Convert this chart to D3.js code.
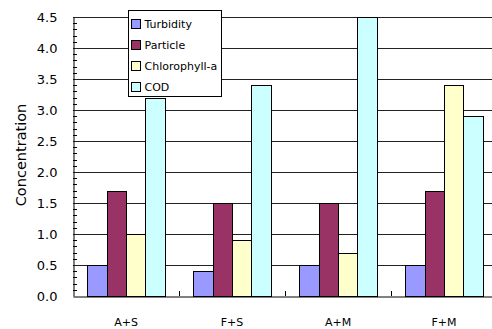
<!DOCTYPE html>
<html>
<head>
<meta charset="utf-8">
<script src="https://cdn.jsdelivr.net/npm/d3@7"></script>
<style>
  html, body { margin: 0; padding: 0; background: #fff; }
  svg { display: block; }
  text { font-family: "Comic Sans MS", "DejaVu Sans", sans-serif; fill: #000; }
</style>
</head>
<body>
<svg id="chart" width="492" height="329"></svg>
<script>
// Treatment groups along the x axis
const categories = ["A+S", "F+S", "A+M", "F+M"];
// Measured parameters (one bar per series in every group)
const seriesNames = ["Turbidity", "Particle", "Chlorophyll-a", "COD"];
const turbidity = [0.5, 0.4, 0.5, 0.5];
const particle = [1.7, 1.5, 1.5, 1.7];
const chlorophyll = [1.0, 0.9, 0.7, 3.4];
const cod = [3.2, 3.4, 4.5, 2.9];
const yTicks = [0.0, 0.5, 1.0, 1.5, 2.0, 2.5, 3.0, 3.5, 4.0, 4.5];
const colors = ["#9999ff", "#993366", "#ffffcc", "#ccffff"];

const seriesValues = [turbidity, particle, chlorophyll, cod];

const svg = d3.select("#chart");
const plotLeft = 73, plotTop = 17, plotBottom = 296, plotRight = 497;

const x0 = d3.scaleBand().domain(categories).range([plotLeft, plotRight]).paddingInner(0).paddingOuter(0);
const x1 = d3.scaleBand().domain(seriesNames).range([0, x0.bandwidth()]).paddingInner(0).paddingOuter(0.75);
const y = d3.scaleLinear().domain([0, 4.5]).range([plotBottom, plotTop]);

// Horizontal gridlines at each major tick
svg.append("g")
  .selectAll("line")
  .data(yTicks.filter(d => d > 0))
  .join("line")
  .attr("x1", plotLeft).attr("x2", plotRight)
  .attr("y1", d => Math.round(y(d)) + 0.5).attr("y2", d => Math.round(y(d)) + 0.5)
  .attr("stroke", "#222").attr("stroke-width", 1);

// Bars
const groups = svg.append("g")
  .selectAll("g")
  .data(categories)
  .join("g")
  .attr("transform", d => `translate(${x0(d)},0)`);

groups.selectAll("rect")
  .data((c, ci) => seriesNames.map((s, si) => ({ s, si, v: seriesValues[si][ci] })))
  .join("rect")
  .attr("x", d => Math.round(x1(d.s)) + 0.5)
  .attr("y", d => Math.round(y(d.v)) + 0.5)
  .attr("width", d => Math.round(x1(d.s) + x1.bandwidth()) - Math.round(x1(d.s)))
  .attr("height", d => Math.round(y(0)) - Math.round(y(d.v)))
  .attr("fill", d => colors[d.si])
  .attr("stroke", "#000")
  .attr("stroke-width", 1);

// Y axis with major labels and minor ticks
const yAxis = d3.axisLeft(y).tickValues(yTicks).tickFormat(d3.format(".1f")).tickSize(0).tickPadding(16);
const ya = svg.append("g").attr("transform", `translate(${plotLeft + 0.5},0)`).call(yAxis);
ya.select(".domain").attr("stroke", "#000");
ya.selectAll("text").style("font-size", "13px");

const minor = d3.range(0, 45).map(i => i / 10).filter(v => Math.round(v * 10) % 5 !== 0);
svg.append("g")
  .selectAll("line")
  .data(minor)
  .join("line")
  .attr("x1", plotLeft).attr("x2", plotLeft + 4)
  .attr("y1", d => Math.round(y(d)) + 0.5).attr("y2", d => Math.round(y(d)) + 0.5)
  .attr("stroke", "#000");

// X axis
const xAxis = d3.axisBottom(x0).tickSize(0).tickPadding(22);
const xa = svg.append("g").attr("transform", `translate(0,${plotBottom + 0.5})`).call(xAxis);
xa.select(".domain").attr("stroke", "#000");
xa.selectAll("text").style("font-size", "11px");

// Category separator ticks
svg.append("g")
  .selectAll("line")
  .data(categories.slice(1))
  .join("line")
  .attr("x1", d => Math.round(x0(d)) + 0.5).attr("x2", d => Math.round(x0(d)) + 0.5)
  .attr("y1", plotBottom - 5).attr("y2", plotBottom)
  .attr("stroke", "#000");

// Y axis title
svg.append("text")
  .attr("transform", `translate(21,155) rotate(-90)`)
  .attr("text-anchor", "middle")
  .attr("dy", "0.35em")
  .style("font-size", "14.5px")
  .text("Concentration");

// Legend
const lg = svg.append("g").attr("transform", "translate(128.5,10.5)");
lg.append("rect").attr("width", 93).attr("height", 86)
  .attr("fill", "#fff").attr("stroke", "#000");
const rows = lg.selectAll("g")
  .data(seriesNames)
  .join("g")
  .attr("transform", (d, i) => `translate(3,${9 + i * 21})`);
rows.append("rect").attr("width", 9).attr("height", 9)
  .attr("fill", (d, i) => colors[i]).attr("stroke", "#000");
rows.append("text").attr("x", 13).attr("y", 5).attr("dy", "0.35em")
  .style("font-size", "11px").text(d => d);
</script>
</body>
</html>
